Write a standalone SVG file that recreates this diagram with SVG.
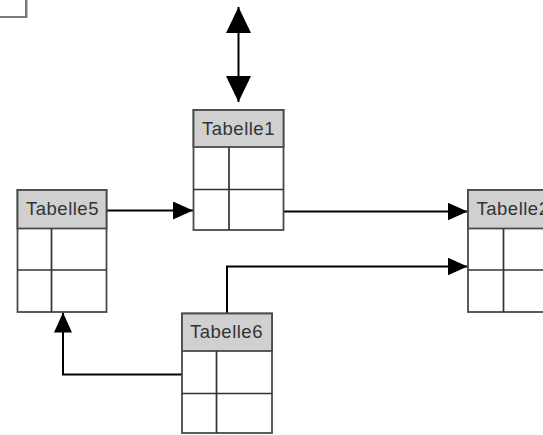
<svg xmlns="http://www.w3.org/2000/svg" width="543" height="435" viewBox="0 0 543 435">
<style>
.box{fill:#ffffff;stroke:#4a4a4a;stroke-width:1.8}
.hdr{fill:#d0d0d0;stroke:#4a4a4a;stroke-width:1.8}
.ln{stroke:#333333;stroke-width:1.7;fill:none}
.lbl{font-family:"Liberation Sans",Arial,sans-serif;font-size:18.5px;letter-spacing:0.5px;fill:#333333;text-anchor:middle}
.con{stroke:#000000;stroke-width:2;fill:none}
</style>
<defs>
<marker id="ah" viewBox="0 0 20 18" refX="20" refY="9" markerWidth="20" markerHeight="18" markerUnits="userSpaceOnUse" orient="auto">
<path d="M0,0 L20,9 L0,18 Z" fill="#000"/>
</marker>
<marker id="ahb" viewBox="0 0 26 25" refX="26" refY="12.5" markerWidth="26" markerHeight="25" markerUnits="userSpaceOnUse" orient="auto-start-reverse">
<path d="M0,0 L26,12.5 L0,25 Z" fill="#000"/>
</marker>
</defs>
<rect width="543" height="435" fill="#ffffff"/>
<g id="frame">
<rect x="-10" y="-10" width="36" height="27" fill="none" stroke="#5a5a5a" stroke-width="1.6"/>
<line x1="27.5" y1="-10" x2="27.5" y2="18" stroke="#bbbbbb" stroke-width="1"/>
</g>
<g id="connectors">
<line class="con" x1="238.5" y1="7" x2="238.5" y2="102" marker-start="url(#ahb)" marker-end="url(#ahb)"/>
<line class="con" x1="107" y1="210.5" x2="193" y2="210.5" marker-end="url(#ah)"/>
<line class="con" x1="284" y1="211.5" x2="467.5" y2="211.5" marker-end="url(#ah)"/>
<polyline class="con" points="227,313 227,266.5 467.5,266.5" marker-end="url(#ah)"/>
<polyline class="con" points="182,374.5 63,374.5 63,312.5" marker-end="url(#ah)"/>
</g>
<g id="Tabelle1">
<rect class="box" x="193.5" y="110" width="90" height="120"/>
<rect class="hdr" x="193.5" y="110" width="90" height="37"/>
<line class="ln" x1="193.5" y1="189.5" x2="283.5" y2="189.5"/>
<line class="ln" x1="229" y1="147" x2="229" y2="230"/>
<text class="lbl" x="238.5" y="135">Tabelle1</text>
</g>
<g id="Tabelle5">
<rect class="box" x="17.5" y="190" width="89" height="122"/>
<rect class="hdr" x="17.5" y="190" width="89" height="38.5"/>
<line class="ln" x1="17.5" y1="270" x2="106.5" y2="270"/>
<line class="ln" x1="51.5" y1="228.5" x2="51.5" y2="312"/>
<text class="lbl" x="62.5" y="214.5">Tabelle5</text>
</g>
<g id="Tabelle2">
<rect class="box" x="468" y="190" width="90" height="122"/>
<rect class="hdr" x="468" y="190" width="90" height="38.5"/>
<line class="ln" x1="468" y1="270" x2="558" y2="270"/>
<line class="ln" x1="503.5" y1="228.5" x2="503.5" y2="312"/>
<text class="lbl" x="513" y="214.5">Tabelle2</text>
</g>
<g id="Tabelle6">
<rect class="box" x="182" y="313.5" width="90" height="119.5"/>
<rect class="hdr" x="182" y="313.5" width="90" height="37.5"/>
<line class="ln" x1="182" y1="393.5" x2="272" y2="393.5"/>
<line class="ln" x1="216.5" y1="351" x2="216.5" y2="433"/>
<text class="lbl" x="226.5" y="338">Tabelle6</text>
</g>
</svg>
